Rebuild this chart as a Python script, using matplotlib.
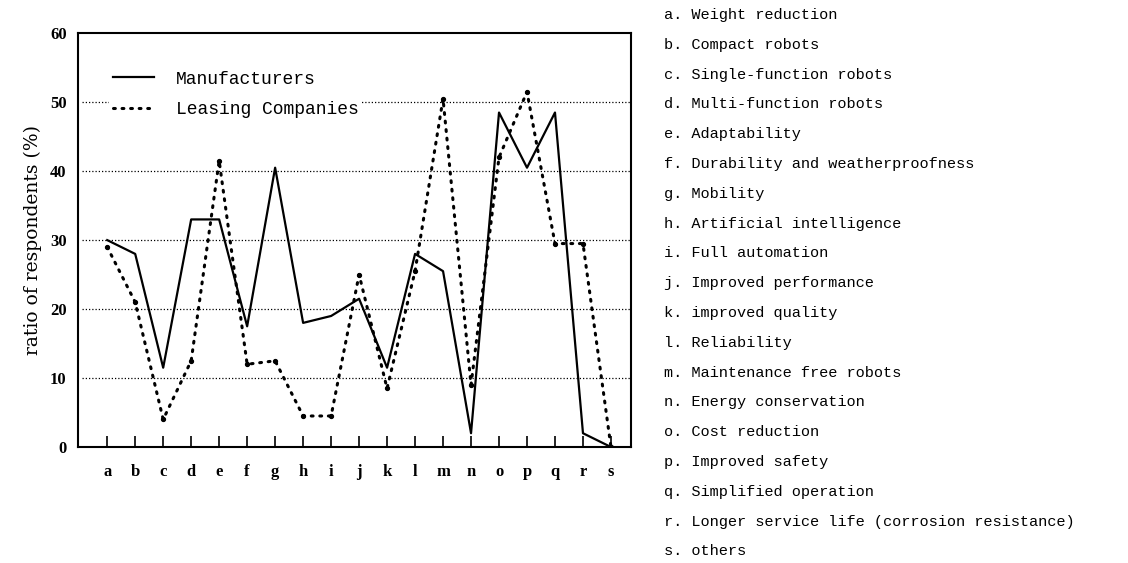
import matplotlib
matplotlib.use("Agg")
import matplotlib.pyplot as plt
import numpy as np

# items a..s
letters = list("abcdefghijklmnopqrs")
descriptions = [
    "Weight reduction",
    "Compact robots",
    "Single-function robots",
    "Multi-function robots",
    "Adaptability",
    "Durability and weatherproofness",
    "Mobility",
    "Artificial intelligence",
    "Full automation",
    "Improved performance",
    "improved quality",
    "Reliability",
    "Maintenance free robots",
    "Energy conservation",
    "Cost reduction",
    "Improved safety",
    "Simplified operation",
    "Longer service life (corrosion resistance)",
    "others",
]

# ratio of respondents (%)
manufacturers = [30, 28, 11.5, 33, 33, 17.5, 40.5, 18, 19, 21.5,
                 11.5, 28, 25.5, 2, 48.5, 40.5, 48.5, 2, 0]
leasing = [29, 21, 4, 12.5, 41.5, 12, 12.5, 4.5, 4.5, 25,
           8.5, 25.5, 50.5, 9, 42, 51.5, 29.5, 29.5, 0]

yticks = [0, 10, 20, 30, 40, 50, 60]

fig = plt.figure(figsize=(11.28, 5.63), dpi=100)
ax = fig.add_axes([0.069, 0.206, 0.49, 0.735])

x = np.arange(len(letters))
ax.plot(x, manufacturers, color="black", lw=1.6, label="Manufacturers")
ax.plot(x, leasing, color="black", lw=2.2, linestyle=(0, (0.6, 2.2)),
        dash_capstyle="round", label="Leasing Companies")
ax.plot(x, leasing, "o", color="black", ms=2.8)

for v in yticks[1:-1]:
    ax.axhline(v, xmin=0.008, color="black", lw=0.9,
               linestyle=(0, (1, 1.6)), zorder=0)

ax.set_xlim(-1.05, 18.7)
ax.set_ylim(0, 60)
ax.set_yticks(yticks)
ax.set_yticklabels([str(v) for v in yticks], fontfamily="Liberation Serif",
                   fontweight="bold", fontsize=12)
ax.set_xticks(x)
ax.set_xticklabels(letters, fontfamily="Liberation Serif",
                   fontweight="bold", fontsize=12)
ax.tick_params(axis="x", direction="in", length=8, width=1.2, pad=12)
ax.tick_params(axis="y", length=0, pad=8)
for s in ax.spines.values():
    s.set_linewidth(1.5)
ax.set_ylabel("ratio of respondents (%)", fontfamily="DejaVu Serif",
              fontsize=13.5, labelpad=6)

leg = ax.legend(loc="upper left", bbox_to_anchor=(0.04, 0.94),
                frameon=True, fancybox=False, edgecolor="none",
                facecolor="white", framealpha=1,
                prop={"family": "Liberation Mono", "size": 13},
                handlelength=2.3, handletextpad=1.2, labelspacing=0.75,
                borderpad=0.2)

# item key on the right
for i, (l, d) in enumerate(zip(letters, descriptions)):
    fig.text(0.589, 1 - (15 + i * 29.8) / 563, f"{l}. {d}",
             fontfamily="Liberation Mono", fontsize=11, va="center")

fig.savefig("out.png", dpi=100)
